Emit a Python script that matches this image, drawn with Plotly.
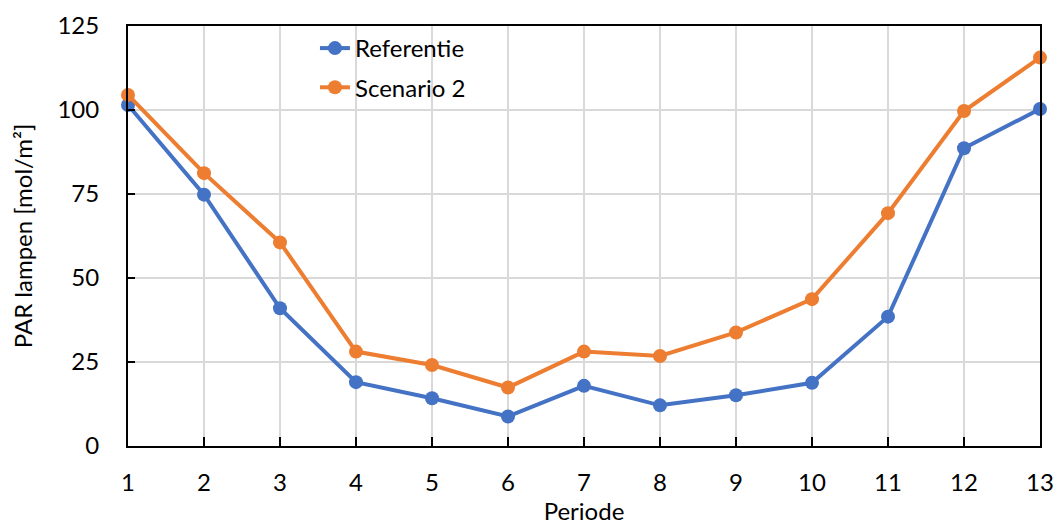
import plotly.graph_objects as go

periods = list(range(1, 14))
referentie = [101.5, 74.8, 41.0, 19.0, 14.2, 8.8, 17.9, 12.1, 15.1, 18.8, 38.5, 88.6, 100.3]
scenario2 = [104.5, 81.2, 60.6, 28.1, 24.1, 17.4, 28.1, 26.8, 33.8, 43.7, 69.3, 99.7, 115.6]

y_ticks = [0, 25, 50, 75, 100, 125]

FONT = "Lato"
fig = go.Figure()
fig.add_trace(go.Scatter(x=periods, y=referentie, name="Referentie", mode="lines+markers",
                         legendgroup="a",
                         line=dict(color="#4472C4", width=4),
                         marker=dict(color="#4472C4", size=14), cliponaxis=False))
fig.add_trace(go.Scatter(x=periods, y=scenario2, name="Scenario 2", mode="lines+markers",
                         legendgroup="b",
                         line=dict(color="#ED7D31", width=4),
                         marker=dict(color="#ED7D31", size=14), cliponaxis=False))

fig.update_layout(
    width=1056, height=527,
    margin=dict(l=128, r=16, t=26, b=81),
    paper_bgcolor="white", plot_bgcolor="white",
    font=dict(family=FONT, size=24, color="black"),
    legend=dict(x=0.205, y=1.0, xanchor="left", yanchor="top", bgcolor="rgba(0,0,0,0)",
                font=dict(size=24), tracegroupgap=5, itemwidth=30),
    xaxis=dict(range=[1, 13], tickvals=periods, showgrid=True, gridcolor="#d9d9d9", gridwidth=2,
               showline=True, linecolor="black", linewidth=2, mirror=True,
               ticks="inside", ticklen=9, tickwidth=2, tickcolor="black",
               ticklabelstandoff=14, zeroline=False, automargin=False,
               title=dict(text="Periode", standoff=6, font=dict(size=24))),
    yaxis=dict(range=[0, 125], tickvals=y_ticks, showgrid=True, gridcolor="#d9d9d9", gridwidth=2,
               showline=True, linecolor="black", linewidth=2, mirror=True,
               ticks="inside", ticklen=7, tickwidth=2, tickcolor="black",
               ticklabelstandoff=22, zeroline=False, automargin=False,
               title=dict(text="PAR lampen [mol/m²]", standoff=18, font=dict(size=24))),
)

fig.write_html("out.html")
